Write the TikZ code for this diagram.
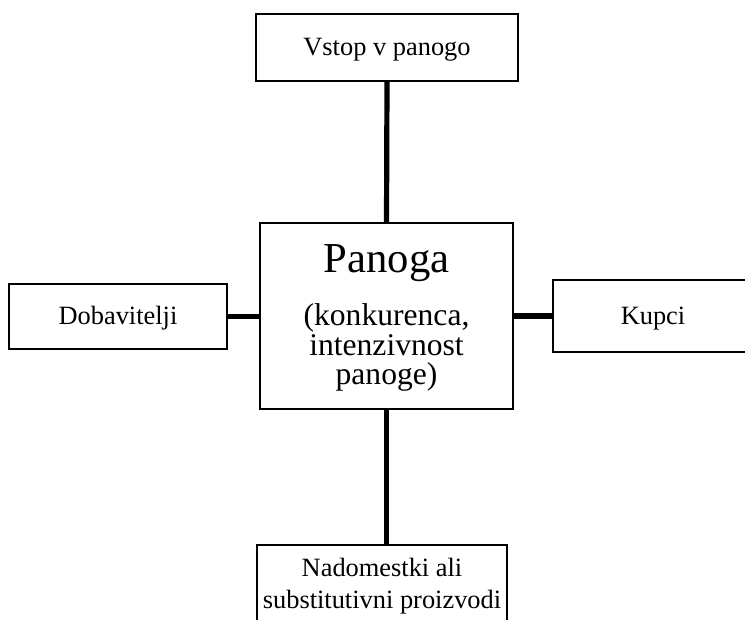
\documentclass[tikz,border=0pt]{standalone}
\usepackage{fontspec}
\setmainfont{Liberation Serif}
\begin{document}
\begin{tikzpicture}[x=0.75pt,y=-0.75pt,
  box/.style={draw=black, line width=1.3pt, fill=white, inner sep=0pt, outer sep=0pt,
              font=\fontsize{19.8}{24}\selectfont, align=center},
  onebox/.style={box, text height=14pt, text depth=2pt},
  link/.style={line width=3.9pt, line cap=butt},
  bigtxt/.style={font=\fontsize{32}{36}\selectfont, inner sep=0pt, anchor=base},
  subtxt/.style={font=\fontsize{23.7}{28}\selectfont, inner sep=0pt, anchor=base}]
\useasboundingbox (0,0) rectangle (745,619);
\clip (0,0) rectangle (745,619);

% the industry in the middle and the four forces round it
\node[box, minimum width=189.75pt, minimum height=139.5pt] (panoga) at (386.5,316) {};
\node[onebox, minimum width=196.5pt, minimum height=50.25pt] (vstop) at (387,47.5) {Vstop v panogo};
\node[onebox, minimum width=163.5pt, minimum height=48.75pt] (dob) at (118,316.5) {Dobavitelji};
\node[onebox, minimum width=150pt, minimum height=54pt] (kupci) at (653,316) {Kupci};
\node[box, minimum width=187.5pt, minimum height=61.5pt] (nad) at (382,586)
  {Nadomestki ali\\substitutivni proizvodi};

% text of the central box
\node[bigtxt] (t1) at (386.5,272) {Panoga};
\node[subtxt] (t2) at (386.5,325) {(konkurenca,};
\node[subtxt] (t3) at (386.5,355) {intenzivnost};
\node[subtxt] (t4) at (386.5,384) {panoge)};

% connectors
\draw[link] (vstop.south) -- (panoga.north);
\draw[link] (panoga.south) -- (panoga.south |- nad.north);
\draw[link] (dob.east) -- (dob.east -| panoga.west);
\draw[link] (panoga.east) -- (panoga.east -| kupci.west);
\end{tikzpicture}
\end{document}
